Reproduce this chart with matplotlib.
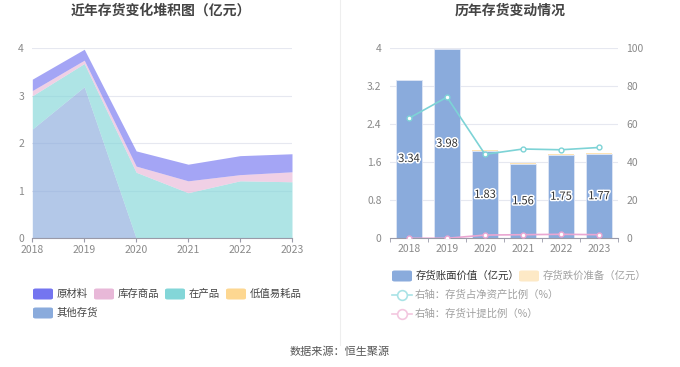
import matplotlib
matplotlib.use("Agg")
import matplotlib.pyplot as plt
import matplotlib.patheffects as pe
from matplotlib.patches import FancyBboxPatch
from matplotlib.lines import Line2D
import numpy as np

plt.rcParams['font.family'] = ['Noto Sans CJK SC', 'DejaVu Sans']

years = ['2018', '2019', '2020', '2021', '2022', '2023']
# left stacked area (亿元)
qita = [2.30, 3.19, 0.0, 0.0, 0.0, 0.0]          # 其他存货
zaichanpin = [0.70, 0.49, 1.39, 0.96, 1.21, 1.19]  # 在产品
dizhi = [0.0, 0.0, 0.0, 0.0, 0.0, 0.0]            # 低值易耗品
kucun = [0.11, 0.07, 0.13, 0.25, 0.13, 0.21]      # 库存商品
yuancailiao = [0.24, 0.23, 0.32, 0.35, 0.40, 0.38]  # 原材料

# right chart
book_value = [3.34, 3.98, 1.83, 1.56, 1.75, 1.77]
reserve = [0.0, 0.0, 0.03, 0.03, 0.03, 0.03]
ratio_net_assets = [63.2, 74.3, 44.2, 47.0, 46.6, 47.8]
provision_ratio = [0.0, 0.0, 1.7, 1.9, 2.1, 1.9]

W, H = 680, 367
fig = plt.figure(figsize=(W / 100, H / 100), dpi=100)

def fx(x):
    return x / W

def fy(y):
    return 1 - y / H

c_yuan = '#7475f0'
c_kucun = '#e8b8d8'
c_zai = '#83d6d8'
c_dizhi = '#fdd791'
c_qita = '#8aabdc'
grid_c = '#e6e8f0'
tick_c = '#8a8a8a'

# ---------- left chart ----------
ax = fig.add_axes([fx(32.3), fy(238.3), fx(292) - fx(32.3), fy(48.3) - fy(238.3)])
x = np.arange(len(years))
series = [(qita, c_qita), (zaichanpin, c_zai), (dizhi, c_dizhi), (kucun, c_kucun), (yuancailiao, c_yuan)]
base = np.zeros(len(years))
for vals, col in series:
    top = base + np.array(vals)
    ax.fill_between(x, base, top, color=col, alpha=0.65, linewidth=0)
    base = top
ax.set_xlim(0, len(years) - 1)
ax.set_ylim(0, 4)
ax.set_yticks([0, 1, 2, 3, 4])
ax.set_xticks(x)
ax.set_xticklabels(years)
ax.grid(axis='y', color=grid_c, linewidth=0.8)
ax.set_axisbelow(True)
for s in ['top', 'right', 'left']:
    ax.spines[s].set_visible(False)
ax.spines['bottom'].set_color('#9a9aa8')
ax.tick_params(axis='y', length=0, labelsize=7.5, colors=tick_c, pad=6)
ax.tick_params(axis='x', length=3, color='#9a9aa8', labelsize=7.5, colors=tick_c, pad=2)

# ---------- right chart ----------
bx = fig.add_axes([fx(390), fy(238.3), fx(618) - fx(390), fy(48.3) - fy(238.3)])
bx.bar(x, book_value, width=0.68, color=c_qita, edgecolor='#dfe6f5', linewidth=0.6, zorder=2)
bx.bar(x, reserve, width=0.68, bottom=book_value, color='#fde3b5', linewidth=0, zorder=2)
for xi, v in zip(x, book_value):
    bx.text(xi, v / 2, f'{v:.2f}', ha='center', va='center', fontsize=8, color='#333333',
            path_effects=[pe.withStroke(linewidth=2.2, foreground='white')], zorder=5)
bx.set_xlim(-0.5, len(years) - 0.5)
bx.set_ylim(0, 4)
bx.set_yticks([0, 0.8, 1.6, 2.4, 3.2, 4])
bx.set_yticklabels(['0', '0.8', '1.6', '2.4', '3.2', '4'])
bx.set_xticks(x)
bx.set_xticklabels(years)
bx.set_xticks(np.arange(-0.5, len(years), 1), minor=True)
bx.grid(axis='y', color=grid_c, linewidth=0.8)
bx.set_axisbelow(True)
for s in ['top', 'right', 'left']:
    bx.spines[s].set_visible(False)
bx.spines['bottom'].set_color('#9a9aa8')
bx.tick_params(axis='y', length=0, labelsize=7.5, colors=tick_c, pad=6)
bx.tick_params(axis='x', which='major', length=0, labelsize=7.5, colors=tick_c, pad=4)
bx.tick_params(axis='x', which='minor', length=3, color='#9a9aa8')

bx2 = bx.twinx()
bx2.set_ylim(0, 100)
bx2.set_yticks([0, 20, 40, 60, 80, 100])
for s in ['top', 'right', 'left', 'bottom']:
    bx2.spines[s].set_visible(False)
bx2.tick_params(axis='y', length=0, labelsize=7.5, colors=tick_c, pad=6)
bx2.plot(x, ratio_net_assets, color='#7dd3d6', linewidth=1.2, marker='o', markersize=3.5,
         markerfacecolor='white', markeredgecolor='#7dd3d6', markeredgewidth=1, zorder=4)
bx2.plot(x, provision_ratio, color='#eaa6d2', linewidth=1.2, marker='o', markersize=3.5,
         markerfacecolor='white', markeredgecolor='#eaa6d2', markeredgewidth=1, zorder=4)

# ---------- titles ----------
fig.text(fx(161), fy(11), '近年存货变化堆积图（亿元）', ha='center', va='center', fontsize=10,
         fontweight='bold', color='#444444')
fig.text(fx(510), fy(11), '历年存货变动情况', ha='center', va='center', fontsize=10,
         fontweight='bold', color='#444444')

# divider
fig.add_artist(Line2D([fx(340), fx(340)], [fy(0), fy(345)], color='#eeeeee', linewidth=0.8))

# ---------- legends ----------
def box(x0, yc, col, w=20, h=11):
    p = FancyBboxPatch((fx(x0), fy(yc + h / 2)), fx(w), h / H,
                       boxstyle='round,pad=0,rounding_size=0.004', transform=fig.transFigure,
                       facecolor=col, edgecolor='none')
    fig.add_artist(p)

left_items = [('原材料', c_yuan, 33, 294), ('库存商品', c_kucun, 94, 294), ('在产品', c_zai, 165, 294),
              ('低值易耗品', c_dizhi, 226, 294), ('其他存货', c_qita, 33, 313)]
for lab, col, x0, yc in left_items:
    box(x0, yc, col)
    fig.text(fx(x0 + 24), fy(yc), lab, ha='left', va='center', fontsize=7.5, color='#444444')

box(392, 276, c_qita)
fig.text(fx(416), fy(276), '存货账面价值（亿元）', ha='left', va='center', fontsize=7.5, color='#333333')
box(519, 276, '#fde9c6')
fig.text(fx(543), fy(276), '存货跌价准备（亿元）', ha='left', va='center', fontsize=7.5, color='#a0a0a0')

for yc, col, lab in [(295, '#a9e3e6', '右轴：存货占净资产比例（%）'), (314, '#f3c7df', '右轴：存货计提比例（%）')]:
    fig.add_artist(Line2D([fx(392), fx(412)], [fy(yc), fy(yc)], color=col, linewidth=1.2))
    fig.add_artist(Line2D([fx(402)], [fy(yc)], color=col, marker='o', markersize=7,
                          markerfacecolor='white', markeredgecolor=col, markeredgewidth=1.2))
    fig.text(fx(415), fy(yc), lab, ha='left', va='center', fontsize=7.5, color='#a0a0a0')

fig.text(fx(340), fy(352), '数据来源：恒生聚源', ha='center', va='center', fontsize=8, color='#555555')

fig.savefig('out.png', dpi=100, facecolor='white')
